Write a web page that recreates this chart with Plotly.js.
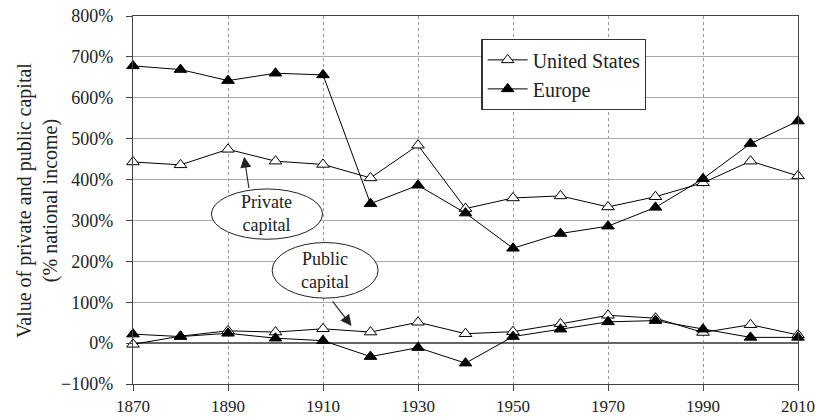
<!DOCTYPE html>
<html>
<head>
<meta charset="utf-8">
<script src="https://cdn.plot.ly/plotly-3.0.1.min.js"></script>
<style>html,body{margin:0;padding:0;background:#fff;}#chart{width:815px;height:417px;}</style>
</head>
<body>
<div id="chart"></div>
<script>
const years = [1870,1880,1890,1900,1910,1920,1930,1940,1950,1960,1970,1980,1990,2000,2010];
const usPrivate = [443,436,474,445,437,404,484,329,355,360,333,358,392,445,409];
const europePrivate = [678,669,642,660,656,341,386,318,232,268,286,332,402,488,543];
const usPublic = [-3,17,30,27,35,27,51,23,28,47,68,61,26,45,20];
const europePublic = [22,16,24,12,6,-33,-11,-49,16,34,52,55,34,14,14];
const xTicks = [1870,1890,1910,1930,1950,1970,1990,2010];
const xTickLabels = ['1870','1890','1910','1930','1950','1970','1990','2010'];
const yTicks = [-100,0,100,200,300,400,500,600,700,800];
const yTickLabels = ['\u2212100%','0%','100%','200%','300%','400%','500%','600%','700%','800%'];
const seriesNames = ['United States','Europe'];

const FONT = 'Liberation Serif';
const usMarker = {symbol:'triangle-up', size:11, color:'#ffffff', line:{color:'#000', width:1}};
const euMarker = {symbol:'triangle-up', size:11, color:'#000000', line:{color:'#000', width:1}};
const lineStyle = {color:'#000', width:1};

const traces = [
  {x:years, y:usPrivate, name:seriesNames[0], mode:'lines+markers', marker:usMarker, line:lineStyle, showlegend:true, cliponaxis:false},
  {x:years, y:europePrivate, name:seriesNames[1], mode:'lines+markers', marker:euMarker, line:lineStyle, showlegend:true, cliponaxis:false},
  {x:years, y:usPublic, name:seriesNames[0], mode:'lines+markers', marker:usMarker, line:lineStyle, showlegend:false, cliponaxis:false},
  {x:years, y:europePublic, name:seriesNames[1], mode:'lines+markers', marker:euMarker, line:lineStyle, showlegend:false, cliponaxis:false}
];

const layout = {
  width:815, height:417,
  margin:{l:133, r:17, t:16, b:33},
  paper_bgcolor:'#fff', plot_bgcolor:'#fff',
  font:{family:FONT, color:'#222', size:15},
  showlegend:true,
  legend:{x:0.524, y:0.937, xanchor:'left', yanchor:'top', bgcolor:'#fff', bordercolor:'#333', borderwidth:1.2,
          font:{family:FONT, size:20, color:'#222'}, itemwidth:40, tracegroupgap:0},
  xaxis:{range:[1870,2010], tickmode:'array', tickvals:xTicks, ticktext:xTickLabels, showgrid:true, gridcolor:'#999', griddash:'dot', gridwidth:1,
         zeroline:false, showline:true, mirror:true, linecolor:'#444', linewidth:1.2, ticklabeloverflow:'allow',
         ticks:'outside', ticklen:6, tickcolor:'#444', tickfont:{family:FONT, size:17, color:'#222'}},
  yaxis:{range:[-100,800], tickmode:'array', tickvals:yTicks, ticktext:yTickLabels, showgrid:true, gridcolor:'#aaa', gridwidth:1,
         zeroline:true, zerolinecolor:'#666', zerolinewidth:1.5,
         showline:true, mirror:true, linecolor:'#444', linewidth:1.2,
         ticks:'outside', ticklen:6, tickcolor:'#444', ticklabelstandoff:9, tickfont:{family:FONT, size:18, color:'#222'}},
  shapes:[
    {type:'circle', xref:'x', yref:'y', x0:1886.5, x1:1909.9, y0:254, y1:377, fillcolor:'#fff', line:{color:'#222', width:1}},
    {type:'circle', xref:'x', yref:'y', x0:1899.3, x1:1921.6, y0:110, y1:246, fillcolor:'#fff', line:{color:'#222', width:1}}
  ],
  annotations:[
    {x:-0.1444, y:0.5, xref:'paper', yref:'paper', xanchor:'center', yanchor:'middle', textangle:-90,
     text:'Value of private and public capital<br>(% national income)', showarrow:false, font:{family:FONT, size:20, color:'#222'}},
    {x:1898.2, y:318, xref:'x', yref:'y', text:'Private<br>capital', showarrow:false, font:{family:FONT, size:18, color:'#222'}},
    {x:1910.45, y:178, xref:'x', yref:'y', text:'Public<br>capital', showarrow:false, font:{family:FONT, size:18, color:'#222'}},
    {x:1893.4, y:456, xref:'x', yref:'y', text:'', showarrow:true, arrowhead:2, arrowsize:2, arrowwidth:1.1, arrowcolor:'#222', ax:5, ay:33},
    {x:1916.0, y:42, xref:'x', yref:'y', text:'', showarrow:true, arrowhead:2, arrowsize:2, arrowwidth:1.1, arrowcolor:'#222', ax:-20, ay:-26}
  ]
};

Plotly.newPlot('chart', traces, layout, {displayModeBar:false, staticPlot:true});
</script>
</body>
</html>
